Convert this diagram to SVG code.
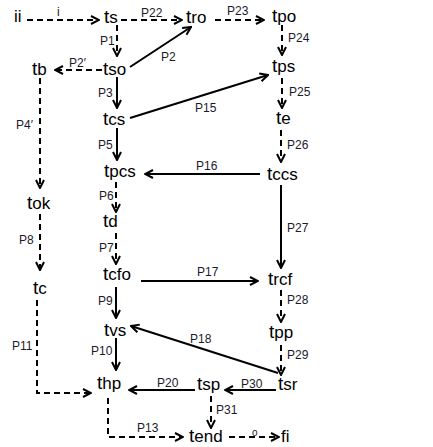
<svg xmlns="http://www.w3.org/2000/svg" width="433" height="447" viewBox="0 0 433 447">
<style>
.n{font-family:"Liberation Sans",Arial,sans-serif;font-size:17px;fill:#000}
.n .t{font-size:19px}
.l{font-family:"Liberation Sans",Arial,sans-serif;font-size:12px;fill:#1a1a2a}
.s{fill:none;stroke:#000;stroke-width:2}
.d{fill:none;stroke:#000;stroke-width:2;stroke-dasharray:6 4}
</style>
<defs>
<marker id="a" viewBox="0 0 10 10" refX="9" refY="5" markerWidth="10" markerHeight="10" markerUnits="userSpaceOnUse" orient="auto">
<path d="M1,1 L9,5 L1,9" fill="none" stroke="#000" stroke-width="2"/>
</marker>
</defs>
<rect width="433" height="447" fill="#fff"/>
<g id="connectors">
<path class="d" d="M27,20 H99" marker-end="url(#a)"/>
<path class="d" d="M121,20 H182" marker-end="url(#a)"/>
<path class="d" d="M215,20 H264" marker-end="url(#a)"/>
<path class="d" d="M117,25 V56" marker-end="url(#a)"/>
<path class="s" d="M130,67 L191,27" marker-end="url(#a)"/>
<path class="d" d="M102,70 H55" marker-end="url(#a)"/>
<path class="d" d="M40,78 V188" marker-end="url(#a)"/>
<path class="s" d="M117,77 V108" marker-end="url(#a)"/>
<path class="s" d="M130,118 L268,75" marker-end="url(#a)"/>
<path class="d" d="M282,25 V55" marker-end="url(#a)"/>
<path class="d" d="M282,78 V108" marker-end="url(#a)"/>
<path class="d" d="M281,130 V162" marker-end="url(#a)"/>
<path class="s" d="M260,174 H145" marker-end="url(#a)"/>
<path class="s" d="M117,128 V160" marker-end="url(#a)"/>
<path class="d" d="M116,182 V212" marker-end="url(#a)"/>
<path class="d" d="M116,233 V264" marker-end="url(#a)"/>
<path class="s" d="M141,281 H258" marker-end="url(#a)"/>
<path class="s" d="M281,185 V268" marker-end="url(#a)"/>
<path class="d" d="M40,214 V270" marker-end="url(#a)"/>
<path class="d" d="M37,300 V393 H91" marker-end="url(#a)"/>
<path class="s" d="M116,287 V318" marker-end="url(#a)"/>
<path class="s" d="M278,373 L131,326" marker-end="url(#a)"/>
<path class="s" d="M116,338 V370" marker-end="url(#a)"/>
<path class="s" d="M195,390 H129" marker-end="url(#a)"/>
<path class="s" d="M276,390 H225" marker-end="url(#a)"/>
<path class="d" d="M281,290 V322" marker-end="url(#a)"/>
<path class="d" d="M281,345 V375" marker-end="url(#a)"/>
<path class="d" d="M211,396 V428" marker-end="url(#a)"/>
<path class="d" d="M108,398 V437 H183" marker-end="url(#a)"/>
<path class="d" d="M229,437 H279" marker-end="url(#a)"/>
</g>
<g id="edge-labels">
<text class="l" x="57" y="16">i</text>
<text class="l" x="141" y="17">P22</text>
<text class="l" x="227" y="15">P23</text>
<text class="l" x="100" y="45">P1</text>
<text class="l" x="161" y="61">P2</text>
<text class="l" x="69" y="67">P2′</text>
<text class="l" x="16" y="129">P4′</text>
<text class="l" x="98" y="97">P3</text>
<text class="l" x="195" y="112">P15</text>
<text class="l" x="288" y="42">P24</text>
<text class="l" x="289" y="96">P25</text>
<text class="l" x="287" y="149">P26</text>
<text class="l" x="196" y="170">P16</text>
<text class="l" x="98" y="149">P5</text>
<text class="l" x="99" y="200">P6</text>
<text class="l" x="99" y="252">P7</text>
<text class="l" x="197" y="276">P17</text>
<text class="l" x="287" y="232">P27</text>
<text class="l" x="19" y="244">P8</text>
<text class="l" x="12" y="350">P11</text>
<text class="l" x="98" y="305">P9</text>
<text class="l" x="190" y="343">P18</text>
<text class="l" x="91" y="355">P10</text>
<text class="l" x="157" y="387">P20</text>
<text class="l" x="241" y="388">P30</text>
<text class="l" x="287" y="304">P28</text>
<text class="l" x="287" y="359">P29</text>
<text class="l" x="216" y="414">P31</text>
<text class="l" x="137" y="432">P13</text>
<text class="l" x="252" y="436" style="font-size:10px">o</text>
</g>
<g id="ii"><text class="n" x="14" y="22">ii</text></g>
<g id="ts"><text class="n" x="104" y="23"><tspan class="t">t</tspan>s</text></g>
<g id="tro"><text class="n" x="186" y="23"><tspan class="t">t</tspan>ro</text></g>
<g id="tpo"><text class="n" x="272" y="22"><tspan class="t">t</tspan>po</text></g>
<g id="tso"><text class="n" x="103" y="75"><tspan class="t">t</tspan>so</text></g>
<g id="tb"><text class="n" x="32" y="75"><tspan class="t">t</tspan>b</text></g>
<g id="tps"><text class="n" x="272" y="72"><tspan class="t">t</tspan>ps</text></g>
<g id="tcs"><text class="n" x="103" y="125"><tspan class="t">t</tspan>cs</text></g>
<g id="te"><text class="n" x="276" y="124"><tspan class="t">t</tspan>e</text></g>
<g id="tccs"><text class="n" x="267" y="180"><tspan class="t">t</tspan>ccs</text></g>
<g id="tpcs"><text class="n" x="104" y="177"><tspan class="t">t</tspan>pcs</text></g>
<g id="td"><text class="n" x="103" y="227"><tspan class="t">t</tspan>d</text></g>
<g id="tcfo"><text class="n" x="103" y="280"><tspan class="t">t</tspan>cfo</text></g>
<g id="trcf"><text class="n" x="268" y="285"><tspan class="t">t</tspan>rcf</text></g>
<g id="tok"><text class="n" x="27" y="209"><tspan class="t">t</tspan>ok</text></g>
<g id="tc"><text class="n" x="33" y="294"><tspan class="t">t</tspan>c</text></g>
<g id="tvs"><text class="n" x="104" y="336"><tspan class="t">t</tspan>vs</text></g>
<g id="thp"><text class="n" x="97" y="389"><tspan class="t">t</tspan>hp</text></g>
<g id="tsp"><text class="n" x="197" y="390"><tspan class="t">t</tspan>sp</text></g>
<g id="tsr"><text class="n" x="278" y="390"><tspan class="t">t</tspan>sr</text></g>
<g id="tpp"><text class="n" x="269" y="338"><tspan class="t">t</tspan>pp</text></g>
<g id="tend"><text class="n" x="189" y="442"><tspan class="t">t</tspan>end</text></g>
<g id="fi"><text class="n" x="281" y="442">fi</text></g>
</svg>
